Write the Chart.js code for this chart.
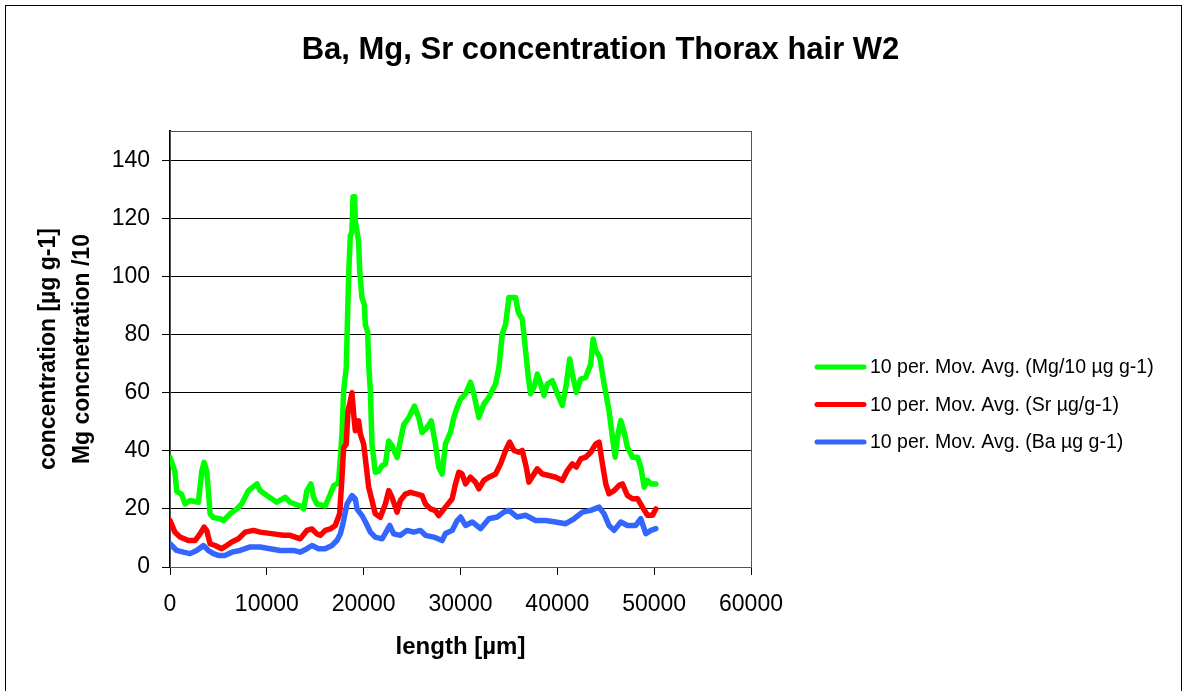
<!DOCTYPE html>
<html>
<head>
<meta charset="utf-8">
<script src="https://cdn.jsdelivr.net/npm/chart.js@4.4.1/dist/chart.umd.min.js"></script>
<style>
    html, body { margin: 0; padding: 0; background: #fff; }
    canvas { display: block; }
</style>
</head>
<body>
<canvas id="chart" width="1187" height="691"></canvas>
<script>
// Values (length in µm, concentration in µg g-1)
const mgX = [0,500,700,1200,1550,2070,2930,3280,3520,3790,
    3970,4140,4480,5170,5520,6200,6900,7400,8100,8970,
    9300,10000,11030,11900,12400,13450,13800,14140,14550,14830,
    15170,16030,16550,16900,17400,17760,17930,18200,18450,18620,
    18790,18900,19070,19140,19480,19590,19830,20070,20170,20410,
    20520,20690,20860,21200,21550,21900,22240,22590,22930,23450,
    23790,24140,24660,25240,25690,26030,26550,26970,27410,27760,
    28100,28450,28970,29310,29660,30000,30520,31030,31380,31900,
    32410,32930,33620,33970,34310,34660,35000,35690,35970,36380,
    36720,37000,37240,37590,37930,38280,38620,38970,39480,40000,
    40520,40930,41280,41550,41970,42410,42930,43450,43690,43970,
    44380,44830,45340,45690,45970,46210,46550,46900,47240,47760,
    48280,48620,48970,49310,49660,50170];
const mgY = [37.7,33,26,25,21.7,22.9,22.3,33,36,33,
    26,18.3,17,16.6,16,18.3,20,21.7,26.3,28.6,
    26.3,24.6,22.3,24,22.3,21,20,26.3,28.6,24,
    21.7,21,25,28,29,45.7,60.6,68.6,100.6,114,
    115.4,127.4,127.4,119,112,101.7,92.6,90.3,83.4,81,
    69.7,60.6,42.3,32.6,33,34.9,35.4,43.4,41.7,37.7,
    43.4,49,51.4,55.4,51.4,46.3,48,50.3,42.3,34.3,
    32,42.4,46.4,51.5,55,57.8,59.6,63.6,59.6,51.5,
    56.1,58.4,63,68.7,80.2,83.6,92.8,92.8,87.6,85.3,
    74.5,65.3,59.6,61.9,66.4,63,59,63,64.1,59.6,
    55.6,63,71.6,66.4,60.1,64.7,65.3,69.9,78.5,74.5,
    72.2,63,53.8,44.7,37.8,44.7,50.4,46.4,41.2,37.8,
    37.8,34.4,27.5,29.8,28.6,28.6];

const srX = [0,500,1030,1900,2590,3100,3520,3790,4140,4660,
    5340,5860,6380,7070,7760,8620,9310,10690,11720,12410,
    13450,14140,14660,15170,15520,16030,16550,17070,17520,17760,
    17930,18200,18380,18620,18790,18970,19140,19480,19660,20000,
    20280,20520,20860,21200,21720,22240,22590,22930,23450,23790,
    24310,24830,25520,26030,26380,26900,27410,27760,28450,29140,
    29480,29830,30170,30520,31030,31550,31900,32410,32930,33620,
    34140,34660,35070,35520,36030,36380,36790,37070,37590,37930,
    38450,39140,39830,40520,41030,41550,41970,42410,42930,43450,
    43970,44310,44660,45000,45340,45860,46380,46720,47240,47760,
    48280,48790,49310,49830,50170];
const srY = [16,12,10.3,9.1,9.1,11.4,13.7,12.6,8,7.4,
    6.3,7.4,8.6,9.7,12,12.6,12,11.4,10.9,10.9,
    9.7,12.6,13.1,11.4,10.9,12.6,13.1,14.3,18.3,30.9,
    41,42.3,53.7,57,60,52.6,46.9,50.3,45.7,42.3,
    34.3,27.4,22.9,18.3,17.1,21.7,26.3,24,18.9,22.9,
    25.1,25.7,25.1,24.6,21.7,20,19.4,17.7,20.6,23.5,
    28.6,32.6,32,28.6,30.9,29.2,26.9,29.8,30.9,32,
    35.5,40.1,43,40.1,39.5,40.1,34.4,29.2,32,33.8,
    32,31.5,30.9,29.8,33.2,35.5,34.4,37.2,37.8,39.5,
    42.4,43,35.5,28.6,25.2,26.3,28.1,28.6,24.6,23.5,
    23.5,20.6,17.8,17.8,20];

const baX = [0,690,1380,2070,2760,3450,3970,4480,5000,5690,
    6380,7240,8280,9310,10340,11380,12760,13450,14140,14660,
    15340,16030,16720,17240,17590,17860,18280,18790,19140,19310,
    19830,20280,20690,21200,21900,22410,22690,23100,23790,24480,
    25170,25860,26380,27240,28100,28450,29140,29660,30000,30520,
    31210,32070,32930,33790,34480,35000,35860,36720,37760,38790,
    39830,40860,41720,42590,43450,44310,44830,45340,45860,46550,
    47240,48100,48620,49140,49660,50170];
const baY = [8,5.7,5.1,4.6,5.7,7.4,5.7,4.6,4,4,
    5.1,5.7,6.9,6.9,6.3,5.7,5.7,5.1,6.3,7.4,
    6.3,6.3,7.4,9.1,11.4,14.9,21.7,24.6,23.4,20,
    17.7,14.9,12,10.3,9.7,12.6,14.3,11.4,10.9,12.6,
    12,12.6,10.9,10.3,9.1,11.5,12.6,16,17.2,14.3,
    15.5,13.2,16.6,17.2,18.9,19.5,17.2,17.8,16,16,
    15.5,14.9,16.6,18.9,19.5,20.6,18.3,14.3,12.6,15.5,
    14.3,14.3,16.6,11.5,12.6,13.2];

const seriesLabels = [
    '10 per. Mov. Avg. (Mg/10 µg g-1)',
    '10 per. Mov. Avg. (Sr µg/g-1)',
    '10 per. Mov. Avg. (Ba µg g-1)'
];
const seriesColors = ['#00ff00', '#ff0000', '#3366ff'];

const xTicks = [0, 10000, 20000, 30000, 40000, 50000, 60000];
const yTicks = [0, 20, 40, 60, 80, 100, 120, 140];

const toPoints = (xs, ys) => xs.map((x, i) => ({ x: x, y: ys[i] }));

Chart.defaults.font.family = '"Liberation Sans", Arial, sans-serif';
Chart.defaults.color = '#000';

// White page, outer frame and the box round the plot
const framePlugin = {
    id: 'frame',
    beforeDraw(chart) {
        const ctx = chart.ctx;
        ctx.save();
        ctx.fillStyle = '#fff';
        ctx.fillRect(0, 0, chart.width, chart.height);
        ctx.strokeStyle = '#000';
        ctx.lineWidth = 1;
        ctx.strokeRect(5.5, 5.5, chart.width - 11, chart.height + 10);
        ctx.restore();
    },
    beforeDatasetsDraw(chart) {
        const a = chart.chartArea;
        const ctx = chart.ctx;
        ctx.save();
        ctx.strokeStyle = '#555';
        ctx.lineWidth = 1;
        ctx.strokeRect(Math.round(a.left) + 0.5, Math.round(a.top) + 0.5,
            Math.round(a.right - a.left), Math.round(a.bottom - a.top));
        ctx.restore();
    }
};

// Legend on the right, drawn by hand so it sits where the original one does
const legendPlugin = {
    id: 'sideLegend',
    afterDraw(chart) {
        const ctx = chart.ctx;
        ctx.save();
        ctx.font = '19.5px "Liberation Sans", Arial, sans-serif';
        ctx.textBaseline = 'middle';
        ctx.lineCap = 'round';
        chart.data.datasets.forEach((ds, i) => {
            const y = 367 + i * 37.5;
            ctx.strokeStyle = ds.borderColor;
            ctx.lineWidth = 5;
            ctx.beginPath();
            ctx.moveTo(817, y);
            ctx.lineTo(864, y);
            ctx.stroke();
            ctx.fillStyle = '#000';
            ctx.fillText(ds.label, 870, y + 1);
        });
        ctx.restore();
    }
};

const ctx = document.getElementById('chart').getContext('2d');
new Chart(ctx, {
    type: 'line',
    data: {
        datasets: [
            { label: seriesLabels[0], data: toPoints(mgX, mgY), borderColor: seriesColors[0], order: 2 },
            { label: seriesLabels[1], data: toPoints(srX, srY), borderColor: seriesColors[1], order: 1 },
            { label: seriesLabels[2], data: toPoints(baX, baY), borderColor: seriesColors[2], order: 0 }
        ]
    },
    options: {
        responsive: false,
        animation: false,
        devicePixelRatio: 1,
        layout: { padding: { left: 14, right: 0, top: 0, bottom: 0 } },
        elements: {
            line: { borderWidth: 5.5, tension: 0, borderJoinStyle: 'round', borderCapStyle: 'round', fill: false },
            point: { radius: 0, hoverRadius: 0 }
        },
        plugins: {
            legend: { display: false },
            tooltip: { enabled: false },
            title: {
                display: true,
                text: 'Ba, Mg, Sr concentration Thorax hair W2',
                color: '#000',
                font: { size: 31, weight: 'bold' },
                padding: { top: 32, bottom: 62 }
            }
        },
        scales: {
            x: {
                type: 'linear',
                min: 0,
                max: 60000,
                afterBuildTicks: s => { s.ticks = xTicks.map(v => ({ value: v })); },
                afterFit: s => { s.height = 124; },
                ticks: { font: { size: 23 }, color: '#000', padding: 16, maxRotation: 0,
                    callback: v => String(v) },
                grid: { drawOnChartArea: false, drawTicks: true, tickLength: 8, color: '#000' },
                border: { color: '#000', width: 1 },
                title: {
                    display: true,
                    text: 'length [µm]',
                    color: '#000',
                    font: { size: 24, weight: 'bold' },
                    padding: { top: 0, bottom: 29 }
                }
            },
            y: {
                min: 0,
                max: 150,
                afterBuildTicks: s => { s.ticks = yTicks.map(v => ({ value: v })); },
                afterFit: s => { s.width = 156; },
                ticks: { font: { size: 23 }, color: '#000', padding: 12 },
                grid: { color: '#000', tickLength: 8 },
                border: { color: '#000', width: 2 },
                title: {
                    display: true,
                    text: ['concentration [µg g-1]', 'Mg concnetration /10'],
                    color: '#000',
                    font: { size: 23, weight: 'bold', lineHeight: 34 / 23 },
                    padding: { top: 18, bottom: 0 }
                }
            },
            y2: {
                position: 'right',
                afterFit: s => { s.width = 436; },
                grid: { display: false },
                ticks: { display: false },
                border: { display: false }
            }
        }
    },
    plugins: [framePlugin, legendPlugin]
});
</script>
</body>
</html>
